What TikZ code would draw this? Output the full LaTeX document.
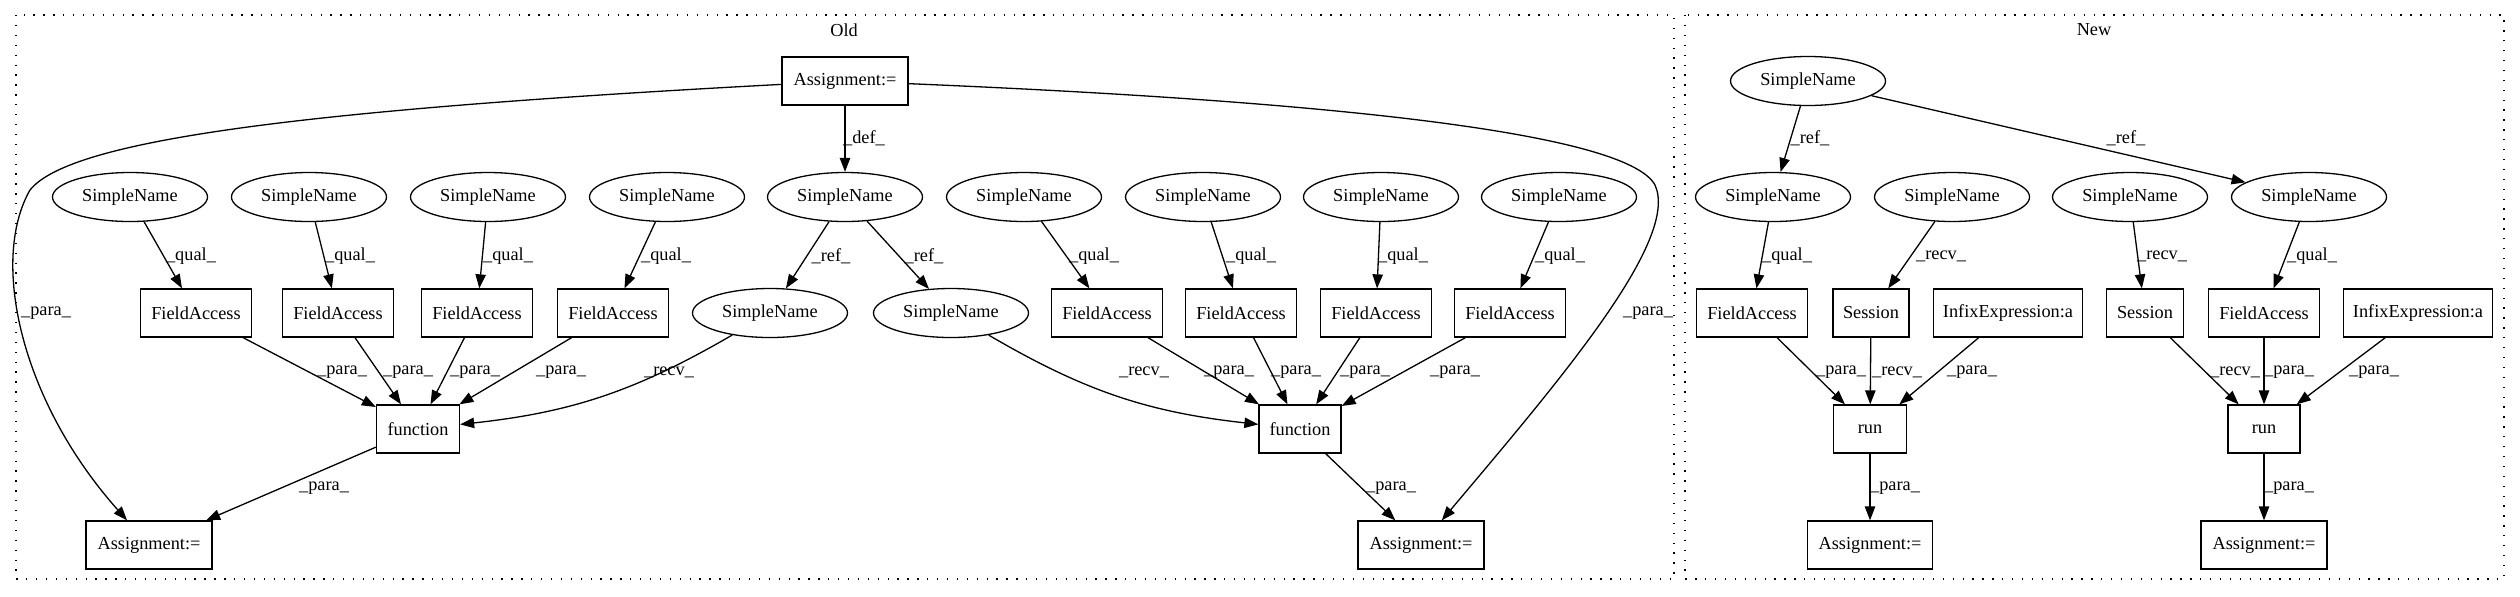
\documentclass[tikz,border=0pt]{standalone}
\usepackage{fontspec}
\setmainfont{Liberation Serif}
\usetikzlibrary{shapes.geometric,arrows.meta}
\begin{document}
\begin{tikzpicture}[x=0.5pt,y=-0.5pt,
  every node/.style={font=\fontsize{9.15}{11}\selectfont, inner sep=0pt},
  ell/.style={draw, ellipse, minimum width=77.5pt, minimum height=24.5pt, line width=0.65pt},
  box/.style={draw, rectangle, minimum height=24pt, line width=0.65pt},
  edge/.style={line width=0.65pt, -{Triangle[length=7pt,width=5.2pt]}},
  clus/.style={line width=0.65pt, dash pattern=on 0.65pt off 4.3pt}]
\useasboundingbox (0,0) rectangle (2520,596);
% clusters
\draw[clus] (16,15) rectangle (1674,579);
\draw[clus] (1685,15) rectangle (2504,579);
\node (oldlbl) at (844,30) {Old};
\node (newlbl) at (2094,30) {New};
% ---------- Old ----------
\node[box, minimum width=63pt] (aT) at (845,81) {Assignment:=};
\node[ell] (s1) at (130,197) {SimpleName};
\node[ell] (s2) at (309,197) {SimpleName};
\node[ell] (s3) at (488,197) {SimpleName};
\node[ell] (s4) at (667,197) {SimpleName};
\node[ell] (sd) at (845,197) {SimpleName};
\node[ell] (s6) at (1024,197) {SimpleName};
\node[ell] (s7) at (1203,197) {SimpleName};
\node[ell] (s8) at (1381,197) {SimpleName};
\node[ell] (s9) at (1559,197) {SimpleName};
\node[box, minimum width=55.5pt] (fa1) at (196,313) {FieldAccess};
\node[box, minimum width=55.5pt] (fa2) at (338,313) {FieldAccess};
\node[box, minimum width=55.5pt] (fa3) at (477,313) {FieldAccess};
\node[box, minimum width=55.5pt] (fa4) at (613,313) {FieldAccess};
\node[ell] (sl) at (770,313) {SimpleName};
\node[ell] (sr) at (951,313) {SimpleName};
\node[box, minimum width=55.5pt] (fa5) at (1107,313) {FieldAccess};
\node[box, minimum width=55.5pt] (fa6) at (1241,313) {FieldAccess};
\node[box, minimum width=55.5pt] (fa7) at (1376,313) {FieldAccess};
\node[box, minimum width=55.5pt] (fa8) at (1510,313) {FieldAccess};
\node[box, minimum width=41.5pt] (f1) at (418,429) {function};
\node[box, minimum width=41pt] (f2) at (1300,429) {function};
\node[box, minimum width=63pt] (a1) at (149,545) {Assignment:=};
\node[box, minimum width=63pt] (a2) at (1421,545) {Assignment:=};
% edges Old
\draw[edge] (aT) -- (sd);
\draw[edge] (s1) -- (fa1);
\draw[edge] (s2) -- (fa2);
\draw[edge] (s3) -- (fa3);
\draw[edge] (s4) -- (fa4);
\draw[edge] (s6) -- (fa5);
\draw[edge] (s7) -- (fa6);
\draw[edge] (s8) -- (fa7);
\draw[edge] (s9) -- (fa8);
\draw[edge] (sd) -- (sl);
\draw[edge] (sd) -- (sr);
\draw[edge] (fa1) -- (f1);
\draw[edge] (fa2) -- (f1);
\draw[edge] (fa3) -- (f1);
\draw[edge] (fa4) -- (f1);
\draw[edge] (sl) to[bend left=12] (f1);
\draw[edge] (sr) to[bend right=12] (f2);
\draw[edge] (fa5) -- (f2);
\draw[edge] (fa6) -- (f2);
\draw[edge] (fa7) -- (f2);
\draw[edge] (fa8) -- (f2);
\draw[edge] (f1) -- (a1);
\draw[edge] (f2) -- (a2);
\coordinate (kl) at (30,190);
\coordinate (kr) at (1655,185);
\draw[line width=0.65pt] (aT) .. controls (300,110) and (70,140) .. (kl);
\draw[edge] (kl) .. controls (-10,260) and (20,400) .. (a1);
\draw[line width=0.65pt] (aT) .. controls (1300,100) and (1625,130) .. (kr);
\draw[edge] (kr) .. controls (1680,240) and (1560,380) .. (a2);
% labels Old
\node (ldef) at (864,138) {\_def\_};
\node (lq1) at (191,256) {\_qual\_};
\node (lq2) at (350,256) {\_qual\_};
\node (lq3) at (508,256) {\_qual\_};
\node (lq4) at (666,256) {\_qual\_};
\node (lq5) at (1094,256) {\_qual\_};
\node (lq6) at (1251,256) {\_qual\_};
\node (lq7) at (1403,256) {\_qual\_};
\node (lq8) at (1560,256) {\_qual\_};
\node (lr1) at (831,256) {\_ref\_};
\node (lr2) at (924,256) {\_ref\_};
\node (lp1) at (342,372) {\_para\_};
\node (lp2) at (408,372) {\_para\_};
\node (lp3) at (475,372) {\_para\_};
\node (lp4) at (561,372) {\_para\_};
\node (lrc1) at (669,372) {\_recv\_};
\node (lrc2) at (1144,372) {\_recv\_};
\node (lp5) at (1229,372) {\_para\_};
\node (lp6) at (1296,372) {\_para\_};
\node (lp7) at (1365,372) {\_para\_};
\node (lp8) at (1455,372) {\_para\_};
\node (lp9) at (324,488) {\_para\_};
\node (lp10) at (1391,488) {\_para\_};
\node (lp11) at (46,313) {\_para\_};
\node (lp12) at (1648,313) {\_para\_};
% ---------- New ----------
\node[ell] (nt) at (1808,81) {SimpleName};
\node[ell] (n1) at (1773,197) {SimpleName};
\node[ell] (n2) at (1952,197) {SimpleName};
\node[ell] (n3) at (2130,197) {SimpleName};
\node[ell] (n4) at (2309,197) {SimpleName};
\node[box, minimum width=55.5pt] (b1) at (1752,313) {FieldAccess};
\node[box, minimum width=38pt] (b2) at (1871,313) {Session};
\node[box, minimum width=74.5pt] (b3) at (2008,313) {InfixExpression:a};
\node[box, minimum width=38.5pt] (b4) at (2145,313) {Session};
\node[box, minimum width=55.5pt] (b5) at (2264,313) {FieldAccess};
\node[box, minimum width=74.5pt] (b6) at (2418,313) {InfixExpression:a};
\node[box, minimum width=36.5pt] (r1) at (1870,429) {run};
\node[box, minimum width=36pt] (r2) at (2264,429) {run};
\node[box, minimum width=62.5pt] (c1) at (1870,545) {Assignment:=};
\node[box, minimum width=63pt] (c2) at (2264,545) {Assignment:=};
\draw[edge] (nt) -- (n1);
\draw[edge] (nt) -- (n4);
\draw[edge] (n1) -- (b1);
\draw[edge] (n2) -- (b2);
\draw[edge] (n3) -- (b4);
\draw[edge] (n4) -- (b5);
\draw[edge] (b1) -- (r1);
\draw[edge] (b2) -- (r1);
\draw[edge] (b3) -- (r1);
\draw[edge] (b4) -- (r2);
\draw[edge] (b5) -- (r2);
\draw[edge] (b6) -- (r2);
\draw[edge] (r1) -- (c1);
\draw[edge] (r2) -- (c2);
\node (nr1) at (1810,138) {\_ref\_};
\node (nr2) at (2126,138) {\_ref\_};
\node (nq1) at (1787,256) {\_qual\_};
\node (nrc1) at (1941,256) {\_recv\_};
\node (nrc2) at (2162,256) {\_recv\_};
\node (nq2) at (2312,256) {\_qual\_};
\node (np1) at (1841,372) {\_para\_};
\node (nrc3) at (1897,372) {\_recv\_};
\node (np2) at (1972,372) {\_para\_};
\node (nrc4) at (2235,372) {\_recv\_};
\node (np3) at (2289,372) {\_para\_};
\node (np4) at (2374,372) {\_para\_};
\node (np5) at (1895,488) {\_para\_};
\node (np6) at (2289,488) {\_para\_};
\end{tikzpicture}
\end{document}
